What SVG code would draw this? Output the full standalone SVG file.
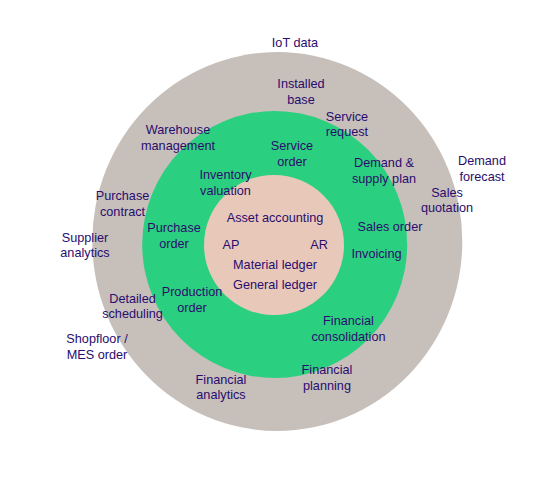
<svg xmlns="http://www.w3.org/2000/svg" width="552" height="487" viewBox="0 0 552 487">
<style>
text{font-family:"Liberation Sans",Arial,sans-serif;font-size:12.7px;fill:#2a0c6e;text-anchor:middle}
</style>
<rect width="552" height="487" fill="#ffffff"/>
<g id="rings">
<ellipse id="outer" cx="277.3" cy="241.5" rx="185" ry="189.5" fill="#c6bfba"/>
<ellipse id="middle" cx="274.7" cy="244.5" rx="132.5" ry="133.5" fill="#2ad07f"/>
<circle id="inner" cx="274" cy="245" r="70" fill="#e8c9b9"/>
</g>
<g id="connectors"></g>
<g id="n-iot"><text x="295" y="47">IoT data</text></g>
<g id="n-installed"><text x="301" y="88">Installed</text><text x="301" y="103.5">base</text></g>
<g id="n-servreq"><text x="347" y="120.5">Service</text><text x="347" y="136">request</text></g>
<g id="n-warehouse"><text x="178" y="134">Warehouse</text><text x="178" y="149.5">management</text></g>
<g id="n-servorder"><text x="292" y="150">Service</text><text x="292" y="165.5">order</text></g>
<g id="n-demandsupply"><text x="384" y="167">Demand &amp;</text><text x="384" y="182.5">supply plan</text></g>
<g id="n-demandforecast"><text x="482" y="165">Demand</text><text x="482" y="180.5">forecast</text></g>
<g id="n-salesquot"><text x="447" y="196.5">Sales</text><text x="447" y="212">quotation</text></g>
<g id="n-inventory"><text x="225.5" y="179">Inventory</text><text x="225.5" y="195">valuation</text></g>
<g id="n-purchcontract"><text x="122.5" y="200">Purchase</text><text x="122.5" y="215.5">contract</text></g>
<g id="n-supplier"><text x="85" y="241.5">Supplier</text><text x="85" y="257">analytics</text></g>
<g id="n-purchorder"><text x="174" y="232">Purchase</text><text x="174" y="247.5">order</text></g>
<g id="n-asset"><text x="275" y="221.5">Asset accounting</text></g>
<g id="n-ap"><text x="231" y="249">AP</text></g>
<g id="n-ar"><text x="319" y="249">AR</text></g>
<g id="n-material"><text x="275" y="269">Material ledger</text></g>
<g id="n-general"><text x="275" y="289">General ledger</text></g>
<g id="n-salesorder"><text x="390" y="231">Sales order</text></g>
<g id="n-invoicing"><text x="376.5" y="257.5">Invoicing</text></g>
<g id="n-production"><text x="192" y="296">Production</text><text x="192" y="311.5">order</text></g>
<g id="n-detailed"><text x="132.5" y="302.5">Detailed</text><text x="132.5" y="318">scheduling</text></g>
<g id="n-shopfloor"><text x="97" y="343">Shopfloor /</text><text x="97" y="358.5">MES order</text></g>
<g id="n-finconsol"><text x="348.5" y="325">Financial</text><text x="348.5" y="340.5">consolidation</text></g>
<g id="n-finplan"><text x="327" y="374">Financial</text><text x="327" y="389.5">planning</text></g>
<g id="n-finanalytics"><text x="221" y="383.5">Financial</text><text x="221" y="399">analytics</text></g>
</svg>
